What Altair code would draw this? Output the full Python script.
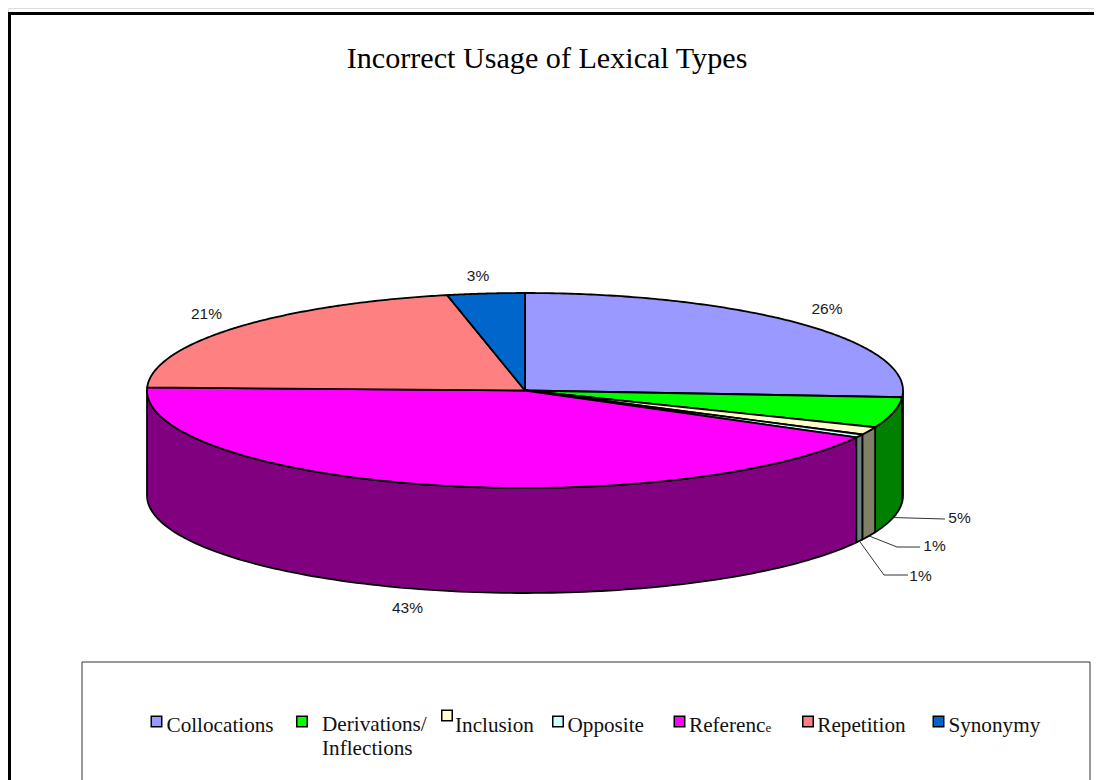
import numpy as np
import pandas as pd
import altair as alt

categories = ["Collocations", "Derivations/ Inflections", "Inclusion", "Opposite", "Reference", "Repetition", "Synonymy"]
shares = [26.1, 5.05, 1.3, 0.55, 42.5, 21.2, 3.3]
labels = ["26%", "5%", "1%", "1%", "43%", "21%", "3%"]
top_colors = ["#9999FF", "#00FF00", "#FFFFCC", "#CCFFFF", "#FF00FF", "#FF8080", "#0066CC"]
side_colors = ["#4D4D80", "#008000", "#808066", "#668080", "#800080", "#804040", "#003366"]

title_text = "Incorrect Usage of Lexical Types"
CX, CY, RX, RY, DEPTH = 525.0, 390.5, 378.0, 97.5, 105.0

X = alt.X("x:Q", axis=None, scale=alt.Scale(domain=[8, 1094], range=[0, 1086]))
Y = alt.Y("y:Q", axis=None, scale=alt.Scale(domain=[8, 780], range=[0, 772]))


def ell(theta_deg, dz=0.0):
    t = np.radians(theta_deg)
    return CX + RX * np.sin(t), CY - RY * np.cos(t) + dz


def poly(xs, ys, color, width=1.8, stroke="black"):
    d = pd.DataFrame({"x": xs, "y": ys, "i": range(len(xs))})
    return alt.Chart(d).mark_line(fill=color, stroke=stroke, strokeWidth=width, strokeJoin="round").encode(
        x=X, y=Y, order="i:Q")


def path(xs, ys, color, width):
    d = pd.DataFrame({"x": xs, "y": ys, "i": range(len(xs))})
    return alt.Chart(d).mark_line(stroke=color, strokeWidth=width).encode(x=X, y=Y, order="i:Q")


layers = []

# frame (top and left edges only) and legend box
layers.append(path([9.5, 9.5, 1094], [790, 13.5, 13.5], "#000000", 3))
layers.append(path([82, 82, 1090, 1090], [790, 662, 662, 790], "#333333", 1))

edges = np.concatenate([[0], np.cumsum(shares)]) / np.sum(shares) * 360

# side walls: only the front half of the cylinder shows
for a, b, c in zip(edges[:-1], edges[1:], side_colors):
    lo, hi = max(a, 90), min(b, 270)
    if hi <= lo:
        continue
    th = np.linspace(lo, hi, 120)
    x1, y1 = ell(th)
    x2, y2 = ell(th[::-1], DEPTH)
    xs = np.concatenate([x1, x2, x1[:1]])
    ys = np.concatenate([y1, y2, y1[:1]])
    layers.append(poly(xs, ys, c))

# top wedges
for a, b, c in zip(edges[:-1], edges[1:], top_colors):
    th = np.linspace(a, b, 160)
    x1, y1 = ell(th)
    xs = np.concatenate([[CX], x1, [CX]])
    ys = np.concatenate([[CY], y1, [CY]])
    layers.append(poly(xs, ys, c))

# leader lines for the three narrow slices
mids = (edges[:-1] + edges[1:]) / 2
knees = {1: (945, 519, 0), 2: (897, 547, 920), 3: (884, 575, 908)}
for idx, (kx, ky, ex) in knees.items():
    sx, sy = ell(mids[idx], DEPTH)
    px = [sx, kx] if ex == 0 else [sx, kx, ex]
    py = [sy, ky] if ex == 0 else [sy, ky, ky]
    layers.append(path(px, py, "#333333", 1))

# percentage labels
lab_x = [827, 959.5, 934.5, 920.5, 407.5, 206.5, 478]
lab_y = [314, 523, 551, 581, 613, 319, 281]
lab_df = pd.DataFrame({"x": lab_x, "y": lab_y, "t": labels})
layers.append(alt.Chart(lab_df).mark_text(font="Liberation Sans", fontSize=15.5, baseline="alphabetic",
                                          align="center", color="#1a1a1a").encode(x=X, y=Y, text="t:N"))

# title
layers.append(alt.Chart(pd.DataFrame({"x": [547], "y": [67.5], "t": [title_text]})).mark_text(
    font="Liberation Serif", fontSize=30.15, baseline="alphabetic", align="center", color="black"
).encode(x=X, y=Y, text="t:N"))

# legend
sw_x = [156.5, 302, 447, 558, 679.5, 808, 938.5]
sw_y = [721.5, 721.5, 715.5, 721.5, 721.5, 721.5, 721.5]
sw_df = pd.DataFrame({"x": sw_x, "y": sw_y, "c": categories})
layers.append(alt.Chart(sw_df).mark_point(shape="square", filled=True, size=110, stroke="black", strokeWidth=1.5, opacity=1).encode(
    x=X, y=Y, fill=alt.Fill("c:N", scale=alt.Scale(domain=categories, range=top_colors), legend=None)))

leg_x = [166.5, 322, 322, 455, 567.5, 689, 817.3, 948.4]
leg_y = [732, 730.5, 755, 732, 732, 732, 732, 732]
leg_t = ["Collocations", "Derivations/", "Inflections", "Inclusion", "Opposite", "Referenc", "Repetition", "Synonymy"]
layers.append(alt.Chart(pd.DataFrame({"x": leg_x, "y": leg_y, "t": leg_t})).mark_text(
    font="Liberation Serif", fontSize=21.2, baseline="alphabetic", align="left", color="#111111"
).encode(x=X, y=Y, text="t:N"))
layers.append(alt.Chart(pd.DataFrame({"x": [765.5], "y": [732], "t": ["e"]})).mark_text(
    font="Liberation Serif", fontSize=13, baseline="alphabetic", align="left", color="#111111"
).encode(x=X, y=Y, text="t:N"))

chart = alt.layer(*layers).properties(
    width=1086, height=772, padding=0, autosize=alt.AutoSizeParams(type="none")
).configure_view(stroke=None, clip=False).configure(background="white")
chart.save("out.html", embed_options={"renderer": "svg", "actions": False})
